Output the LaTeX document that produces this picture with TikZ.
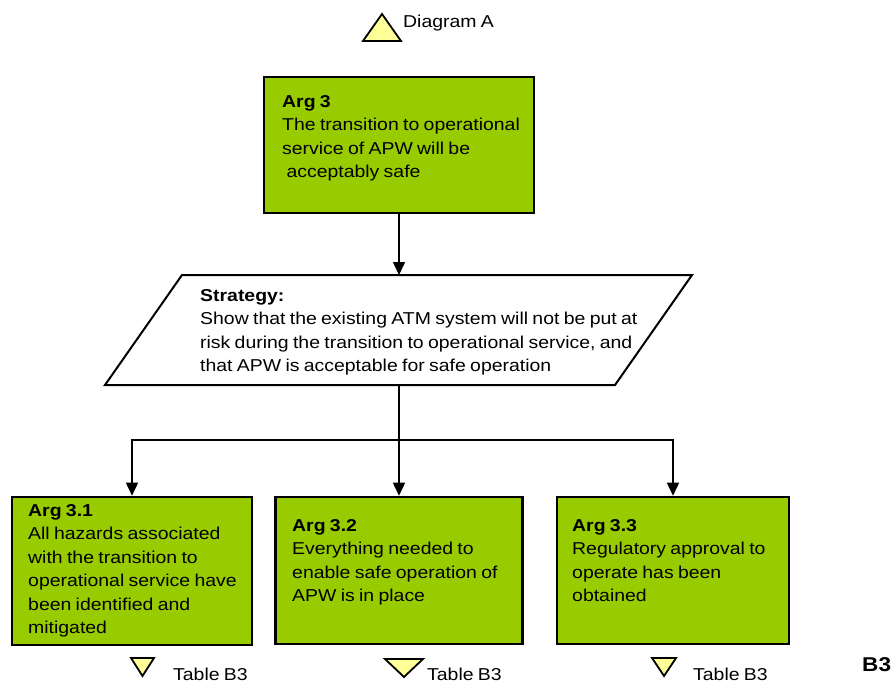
\documentclass[tikz,border=0pt]{standalone}
\usepackage{fontspec}
\setmainfont{Liberation Sans}[FakeStretch=1.13,WordSpace=0.8]
\usetikzlibrary{arrows.meta}
\definecolor{boxgreen}{HTML}{99CC00}
\definecolor{triyellow}{HTML}{FFFF99}
\begin{document}
\begin{tikzpicture}[x=1pt,y=-1pt,
  argbox/.style={draw=black,line width=2.6pt,fill=boxgreen,rectangle,inner sep=0pt},
  argtext/.style={anchor=north west,inner sep=0pt,align=left,font=\fontsize{17.2}{23.5}\selectfont},
  lbl/.style={anchor=west,inner sep=0pt,font=\fontsize{17.2}{20}\selectfont},
  arr/.style={line width=1.6pt,-{Triangle[length=13pt,width=12pt]}},
  conn/.style={line width=1.6pt},
  tri/.style={draw=black,line width=1.8pt,fill=triyellow,line join=miter}]
\useasboundingbox (0,0) rectangle (895,682);

% top reference
\draw[tri] (382,14) -- (401,41) -- (363,41) -- cycle;
\node[lbl] (diagA) at (403,23) {Diagram A};

% Arg 3
\node[argbox,minimum width=270pt,minimum height=136pt] (a3) at (399,145) {};
\node[argtext] (a3t) at (282,95) {\textbf{Arg 3}\\The transition to operational\\service of APW will be\\\ acceptably safe};

% Strategy parallelogram
\coordinate (stTL) at (182,275);
\coordinate (stTR) at (692,275);
\coordinate (stBR) at (615,385);
\coordinate (stBL) at (105,385);
\coordinate (stTop) at (a3.south |- stTL);
\coordinate (stBot) at (a3.south |- stBL);
\draw[line width=2pt,fill=white,line join=miter] (stTL) -- (stTR) -- (stBR) -- (stBL) -- cycle;
\node[argtext] (stt) at (200,289) {\textbf{Strategy:}\\Show that the existing ATM system will not be put at\\risk during the transition to operational service, and\\that APW is acceptable for safe operation};

\draw[arr] (a3.south) -- (stTop);

% Children
\node[argbox,minimum width=240pt,minimum height=148pt] (b1) at (132,571) {};
\node[argbox,minimum width=247pt,minimum height=147pt] (b2) at (399,570.5) {};
\node[argbox,minimum width=232pt,minimum height=147pt] (b3) at (673,570.5) {};

\node[argtext] (b1t) at (28,504) {\textbf{Arg 3.1}\\All hazards associated\\with the transition to\\operational service have\\been identified and\\mitigated};
\node[argtext] (b2t) at (292,519) {\textbf{Arg 3.2}\\Everything needed to\\enable safe operation of\\APW is in place};
\node[argtext] (b3t) at (572,519) {\textbf{Arg 3.3}\\Regulatory approval to\\operate has been\\obtained};

\coordinate (j) at (b2.north |- 0,440);
\draw[conn] (stBot) -- (j);
\draw[arr] (j) -| (b1.north);
\draw[arr] (j) -- (b2.north);
\draw[arr] (j) -| (b3.north);

% bottom references
\draw[tri] (131,658) -- (154,658) -- (142.5,676) -- cycle;
\node[lbl] (t1) at (173,674) {Table B3};
\draw[tri] (385,659) -- (423,659) -- (404,677) -- cycle;
\node[lbl] (t2) at (427,674) {Table B3};
\draw[tri] (652,658) -- (676,658) -- (664,676) -- cycle;
\node[lbl] (t3) at (693,674) {Table B3};

\node[anchor=west,inner sep=0pt,font=\fontsize{20}{24}\selectfont\bfseries] (b3lbl) at (862,665) {B3};
\end{tikzpicture}
\end{document}
